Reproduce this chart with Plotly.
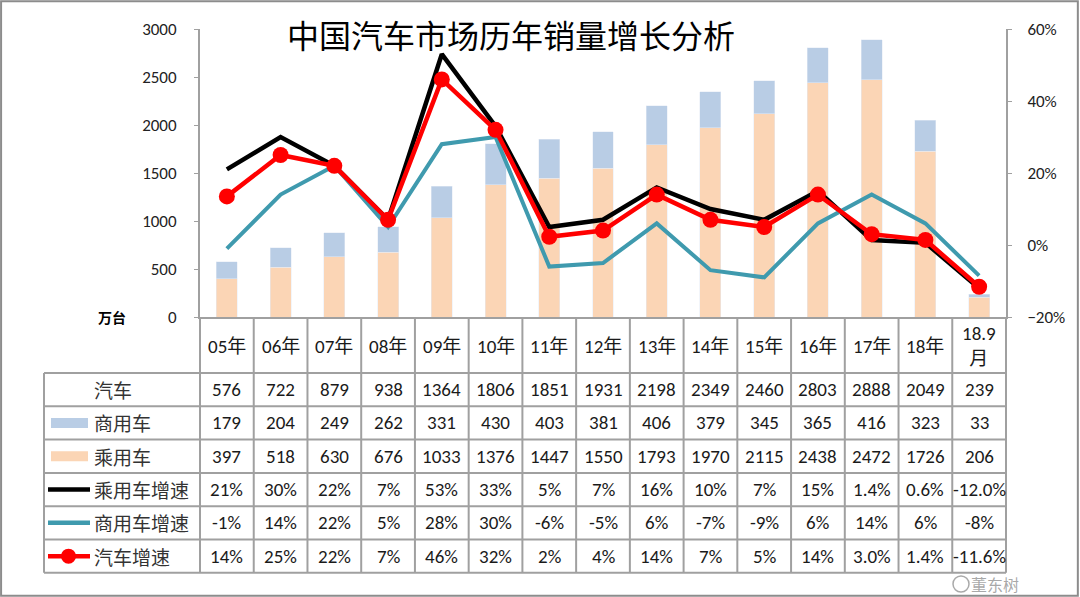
import plotly.graph_objects as go

W, H = 1080, 597

# ---------------- data ----------------
categories = ["05年", "06年", "07年", "08年", "09年", "10年", "11年", "12年",
              "13年", "14年", "15年", "16年", "17年", "18年", "18.9月"]
header_labels = ["05年", "06年", "07年", "08年", "09年", "10年", "11年", "12年",
                 "13年", "14年", "15年", "16年", "17年", "18年", "18.9<br>月"]
total = [576, 722, 879, 938, 1364, 1806, 1851, 1931, 2198, 2349, 2460, 2803, 2888, 2049, 239]
commercial = [179, 204, 249, 262, 331, 430, 403, 381, 406, 379, 345, 365, 416, 323, 33]
passenger = [397, 518, 630, 676, 1033, 1376, 1447, 1550, 1793, 1970, 2115, 2438, 2472, 1726, 206]
passenger_growth = [0.21, 0.30, 0.22, 0.07, 0.53, 0.33, 0.05, 0.07, 0.16, 0.10, 0.07, 0.15, 0.014, 0.006, -0.12]
commercial_growth = [-0.01, 0.14, 0.22, 0.05, 0.28, 0.30, -0.06, -0.05, 0.06, -0.07, -0.09, 0.06, 0.14, 0.06, -0.085]
total_growth = [0.135, 0.25, 0.22, 0.07, 0.46, 0.32, 0.023, 0.04, 0.14, 0.07, 0.05, 0.14, 0.03, 0.014, -0.116]
passenger_growth_labels = ["21%", "30%", "22%", "7%", "53%", "33%", "5%", "7%", "16%", "10%",
                           "7%", "15%", "1.4%", "0.6%", "-12.0%"]
commercial_growth_labels = ["-1%", "14%", "22%", "5%", "28%", "30%", "-6%", "-5%", "6%", "-7%",
                            "-9%", "6%", "14%", "6%", "-8%"]
total_growth_labels = ["14%", "25%", "22%", "7%", "46%", "32%", "2%", "4%", "14%", "7%",
                       "5%", "14%", "3.0%", "1.4%", "-11.6%"]
left_ticks = [0, 500, 1000, 1500, 2000, 2500, 3000]
right_ticks = [-0.2, 0.0, 0.2, 0.4, 0.6]

title_text = "中国汽车市场历年销量增长分析"
unit_text = "万台"
row_names = ["汽车", "商用车", "乘用车", "乘用车增速", "商用车增速", "汽车增速"]
watermark_text = "董东树"

# ---------------- style ----------------
C_PASS = "#FBD5B5"
C_COMM = "#B9CDE5"
C_BLACK = "#000000"
C_TEAL = "#3F9AAE"
C_RED = "#FF0000"
GRID = "#A0A0A0"
TXT = "#1a1a1a"
FONT = "Calibri, Carlito, Lato, 'Noto Sans CJK SC', sans-serif"
CJK = "'Noto Sans CJK SC', sans-serif"


def px(x):
    return x / W


def py(y):
    return 1 - y / H


PLOT_L, PLOT_R, PLOT_T, PLOT_B = 200, 1006, 29, 317
TAB_L = 44
HEAD_B = 373
ROW_H = 33.3
row_edges = [HEAD_B + i * ROW_H for i in range(7)]

fig = go.Figure()

fig.add_trace(go.Bar(x=categories, y=passenger, name="乘用车", marker_color=C_PASS,
                     width=0.39, hoverinfo="skip"))
fig.add_trace(go.Bar(x=categories, y=commercial, name="商用车", marker_color=C_COMM,
                     width=0.39, hoverinfo="skip"))
fig.add_trace(go.Scatter(x=categories, y=passenger_growth, name="乘用车增速", yaxis="y2",
                         mode="lines", line=dict(color=C_BLACK, width=4.5), hoverinfo="skip"))
fig.add_trace(go.Scatter(x=categories, y=commercial_growth, name="商用车增速", yaxis="y2",
                         mode="lines", line=dict(color=C_TEAL, width=4), hoverinfo="skip"))
fig.add_trace(go.Scatter(x=categories, y=total_growth, name="汽车增速", yaxis="y2",
                         mode="lines+markers", line=dict(color=C_RED, width=4.5),
                         marker=dict(color=C_RED, size=16), hoverinfo="skip"))

shapes = []
ann = []

line_style = dict(color=GRID, width=2)
for i in range(len(categories) - 1):
    shapes.append(dict(type="line", xref="x", yref="paper", x0=i + 0.5, x1=i + 0.5,
                       y0=py(PLOT_B), y1=py(row_edges[-1]), line=line_style))
for xe in (PLOT_L, PLOT_R):
    shapes.append(dict(type="line", xref="paper", yref="paper", x0=px(xe), x1=px(xe),
                       y0=py(PLOT_B), y1=py(row_edges[-1]), line=line_style))
shapes.append(dict(type="line", xref="paper", yref="paper", x0=px(TAB_L), x1=px(TAB_L),
                   y0=py(row_edges[0]), y1=py(row_edges[-1]), line=line_style))
for ye in row_edges:
    shapes.append(dict(type="line", xref="paper", yref="paper", x0=px(TAB_L), x1=px(PLOT_R),
                       y0=py(ye), y1=py(ye), line=line_style))

shapes.append(dict(type="rect", xref="paper", yref="paper", x0=0.001, x1=0.998, y0=0.002, y1=0.998,
                   line=dict(color="#8c8c8c", width=2)))

for c, lab in zip(categories, header_labels):
    ann.append(dict(x=c, y=py((PLOT_B + HEAD_B) / 2 + 1), xref="x", yref="paper", text=lab,
                    showarrow=False, font=dict(family=FONT, size=19, color=TXT),
                    xanchor="center", yanchor="middle"))

table_rows = [
    [str(v) for v in total],
    [str(v) for v in commercial],
    [str(v) for v in passenger],
    passenger_growth_labels,
    commercial_growth_labels,
    total_growth_labels,
]


def rc(r):
    return (row_edges[r] + row_edges[r + 1]) / 2


for r, vals in enumerate(table_rows):
    yc = rc(r)
    for c, v in zip(categories, vals):
        ann.append(dict(x=c, y=py(yc), xref="x", yref="paper", text=v, showarrow=False,
                        font=dict(family=FONT, size=19, color=TXT),
                        xanchor="center", yanchor="middle"))
    ann.append(dict(x=px(92), y=py(yc), xref="paper", yref="paper", text=row_names[r],
                    showarrow=False, font=dict(family=CJK, size=19, color="#333"),
                    xanchor="left", yanchor="middle"))

for r, col in ((1, C_COMM), (2, C_PASS)):
    yc = rc(r)
    shapes.append(dict(type="rect", xref="paper", yref="paper", x0=px(51), x1=px(88),
                       y0=py(yc - 5), y1=py(yc + 5), line=dict(width=0), fillcolor=col))
for r, col in ((3, C_BLACK), (4, C_TEAL), (5, C_RED)):
    yc = rc(r)
    shapes.append(dict(type="line", xref="paper", yref="paper", x0=px(48), x1=px(90),
                       y0=py(yc), y1=py(yc), line=dict(color=col, width=4.5)))
yc = rc(5)
shapes.append(dict(type="circle", xref="paper", yref="paper", x0=px(61), x1=px(76),
                   y0=py(yc + 7.5), y1=py(yc - 7.5), line=dict(width=0), fillcolor=C_RED))

ann.append(dict(x=px(511), y=py(34), xref="paper", yref="paper", text=title_text, showarrow=False,
                font=dict(family=CJK, size=32, color="#000000"), xanchor="center", yanchor="middle"))
ann.append(dict(x=px(112), y=py(317), xref="paper", yref="paper", text="<b>" + unit_text + "</b>",
                showarrow=False, font=dict(family=CJK, size=14, color="#000000"),
                xanchor="center", yanchor="middle"))

# watermark, kept in the free strip under the table so it hides no value
ann.append(dict(x=px(995), y=py(584), xref="paper", yref="paper", text=watermark_text, showarrow=False,
                font=dict(family=CJK, size=16, color="rgba(140,140,140,0.75)"),
                xanchor="center", yanchor="middle"))
shapes.append(dict(type="circle", xref="paper", yref="paper", x0=px(953), x1=px(969),
                   y0=py(592), y1=py(576), line=dict(color="rgba(140,140,140,0.75)", width=1.5)))

fig.update_layout(
    width=W, height=H,
    margin=dict(l=0, r=0, t=0, b=0, autoexpand=False),
    paper_bgcolor="white", plot_bgcolor="white",
    barmode="stack", bargap=0.6,
    showlegend=False,
    shapes=shapes, annotations=ann,
    xaxis=dict(domain=[px(PLOT_L), px(PLOT_R)], type="category", categoryorder="array",
               categoryarray=categories, range=[-0.5, len(categories) - 0.5],
               showticklabels=False, ticks="", showline=True, linecolor=GRID, linewidth=2,
               showgrid=False, zeroline=False, fixedrange=True, automargin=False),
    yaxis=dict(domain=[py(PLOT_B), py(PLOT_T)], range=[0, 3000], tickvals=left_ticks,
               ticks="outside", ticklen=4, tickcolor=GRID, showline=True, linecolor=GRID,
               linewidth=2, showgrid=False, zeroline=False, ticklabelstandoff=14, automargin=False,
               tickfont=dict(family=FONT, size=17, color="#222")),
    yaxis2=dict(domain=[py(PLOT_B), py(PLOT_T)], overlaying="y", side="right",
                anchor="x", range=[-0.2, 0.6], tickvals=right_ticks, tickformat=".0%",
                ticks="outside", ticklen=4, tickcolor=GRID, showline=True, linecolor=GRID,
                linewidth=2, showgrid=False, zeroline=False, ticklabelstandoff=12, automargin=False,
                tickfont=dict(family=FONT, size=17, color="#222")),
    font=dict(family=FONT),
)

fig.write_html("out.html", config={"displayModeBar": False},
               post_script="document.body.style.margin='0';document.body.style.overflow='hidden';")
